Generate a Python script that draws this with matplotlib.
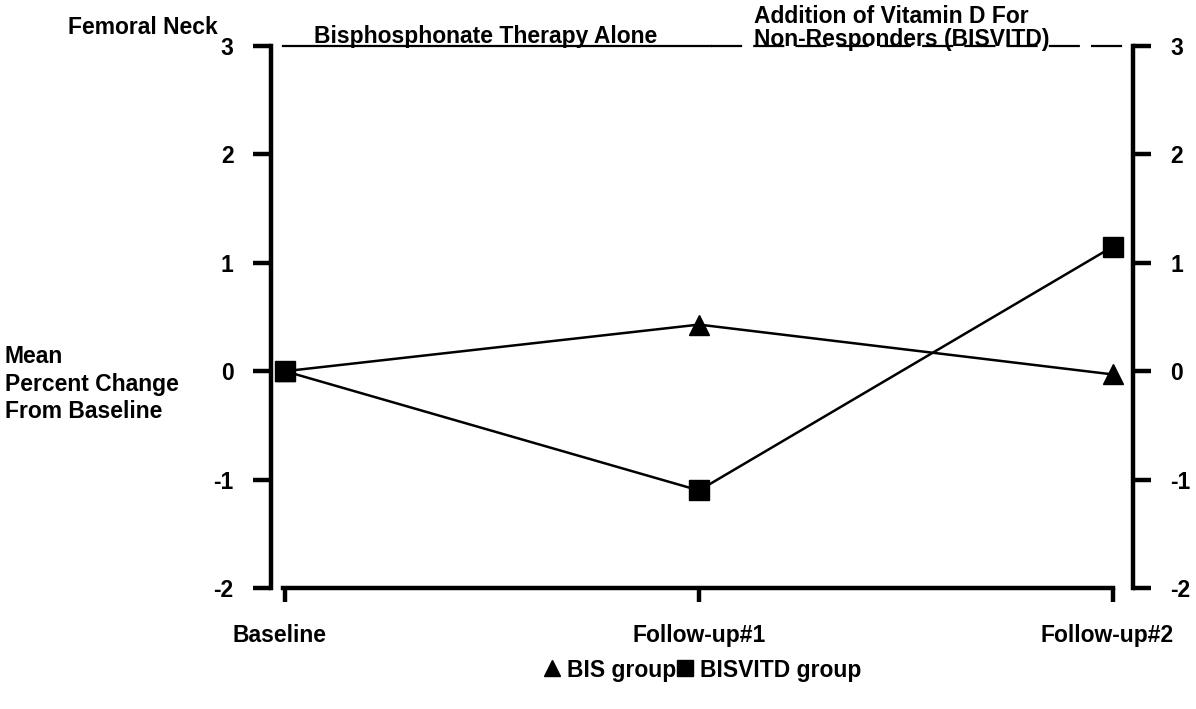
import matplotlib
matplotlib.use('Agg')
import matplotlib.pyplot as plt
from matplotlib.lines import Line2D
from matplotlib.transforms import ScaledTranslation

# data
visits = ['Baseline', 'Follow-up#1', 'Follow-up#2']
bis_group = [0.0, 0.43, -0.03]
bisvitd_group = [0.0, -1.10, 1.15]
y_ticks = [-2, -1, 0, 1, 2, 3]

plt.rcParams['font.family'] = ['Liberation Sans', 'DejaVu Sans']
plt.rcParams['font.weight'] = 'bold'

FS = 16.5
W, H = 1196, 709
fig = plt.figure(figsize=(W / 100, H / 100), dpi=100)

# axes box in pixels: left spine 271, right spine 1133, top 46, bottom 588
left, right, top, bottom = 271, 1133, 46, 588
ax = fig.add_axes([left / W, 1 - bottom / H, (right - left) / W, (bottom - top) / H])

x = list(range(len(visits)))
px_per_unit = (1113 - 285) / 2
ax.set_xlim(-(285 - left) / px_per_unit, 2 + (right - 1113) / px_per_unit)
ax.set_ylim(-2, 3)

ax.plot(x, bis_group, color='black', lw=1.8, marker='^', ms=14, zorder=3)
ax.plot(x, bisvitd_group, color='black', lw=1.8, marker='s', ms=15, zorder=3)

# top reference line: solid for therapy alone, dashed for vitamin D phase
ax.plot([-0.005, 1.03], [3, 3], color='black', lw=1.6, clip_on=False)
ax.plot([1.03, 2.025], [3, 3], color='black', lw=1.6, ls=(0, (14, 5)), clip_on=False)

ax.spines['top'].set_visible(False)
for s in ['left', 'right', 'bottom']:
    ax.spines[s].set_linewidth(3.2)
ax.spines['bottom'].set_bounds(-0.006, 2)

ax.set_yticks(y_ticks)
ax.set_yticklabels([str(v) for v in y_ticks])
ax.tick_params(axis='y', which='both', left=True, right=True, labelleft=True, labelright=True,
               direction='out', length=13, width=3.2, labelsize=FS, pad=14)
ax.set_xticks(x)
ax.set_xticklabels(visits)
ax.tick_params(axis='x', direction='out', length=10, width=3.2, labelsize=FS, pad=16)
for lab in ax.get_xticklabels() + ax.get_yticklabels():
    lab.set_fontweight('bold')

# nudge end labels a few pixels left, as in the original
shift = ScaledTranslation(-6 / 100, 0, fig.dpi_scale_trans)
xl = ax.get_xticklabels()
for i in (0, 2):
    xl[i].set_transform(xl[i].get_transform() + shift)

fig.text(68 / W, 1 - 28 / H, 'Femoral Neck', fontsize=FS, fontweight='bold', va='center', ha='left')
fig.text(5 / W, 1 - 384 / H, 'Mean\nPercent Change\nFrom Baseline', fontsize=FS,
         fontweight='bold', va='center', ha='left', linespacing=1.25)
fig.text(314 / W, 1 - 37 / H, 'Bisphosphonate Therapy Alone', fontsize=FS,
         fontweight='bold', va='center', ha='left')
fig.text(754 / W, 1 - 28 / H, 'Addition of Vitamin D For\nNon-Responders (BISVITD)', fontsize=FS,
         fontweight='bold', va='center', ha='left', linespacing=1.05)

handles = [Line2D([], [], ls='none', marker='^', ms=11, color='black'),
           Line2D([], [], ls='none', marker='s', ms=11, color='black')]
ax.legend(handles, ['BIS group', 'BISVITD group'], loc='center',
          bbox_to_anchor=(703 / W, 1 - 670 / H), bbox_transform=fig.transFigure,
          ncol=2, frameon=False, handlelength=0.6, handletextpad=0.35, columnspacing=0.1,
          prop={'size': FS, 'weight': 'bold'})

fig.savefig('out.png', dpi=100)
